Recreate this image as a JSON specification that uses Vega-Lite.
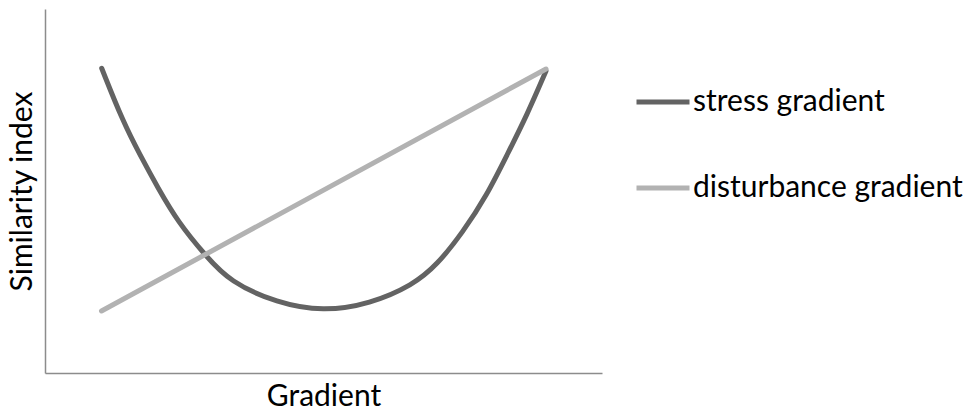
{
  "$schema": "https://vega.github.io/schema/vega-lite/v6.json",
  "width": 557,
  "height": 364,
  "autosize": {"type": "none"},
  "padding": {"left": 45, "top": 9, "right": 367, "bottom": 38},
  "background": "white",
  "config": {
    "view": {"stroke": null},
    "font": "Lato"
  },
  "datasets": {
    "curves": [
      {"series": "stress gradient", "g": 56.7, "s": 304.7},
      {"series": "stress gradient", "g": 78, "s": 251.3},
      {"series": "stress gradient", "g": 95, "s": 218},
      {"series": "stress gradient", "g": 113, "s": 185},
      {"series": "stress gradient", "g": 133, "s": 151},
      {"series": "stress gradient", "g": 160, "s": 118},
      {"series": "stress gradient", "g": 185, "s": 91},
      {"series": "stress gradient", "g": 232, "s": 70},
      {"series": "stress gradient", "g": 278, "s": 61.5},
      {"series": "stress gradient", "g": 325, "s": 69},
      {"series": "stress gradient", "g": 368, "s": 88},
      {"series": "stress gradient", "g": 392, "s": 108},
      {"series": "stress gradient", "g": 418, "s": 141},
      {"series": "stress gradient", "g": 442, "s": 178},
      {"series": "stress gradient", "g": 462, "s": 218},
      {"series": "stress gradient", "g": 482, "s": 258},
      {"series": "stress gradient", "g": 501, "s": 302},
      {"series": "disturbance gradient", "g": 56.5, "s": 62},
      {"series": "disturbance gradient", "g": 501, "s": 304}
    ]
  },
  "data": {"name": "curves"},
  "encoding": {
    "x": {
      "field": "g", "type": "quantitative",
      "scale": {"domain": [0, 557], "nice": false, "zero": false},
      "axis": {
        "title": "Gradient", "labels": false, "ticks": false, "grid": false,
        "domainColor": "#8c8c8c", "domainWidth": 1.5,
        "titleFont": "Lato", "titleFontSize": 30, "titleFontWeight": "normal",
        "titleColor": "#000000", "titlePadding": 8
      }
    },
    "y": {
      "field": "s", "type": "quantitative",
      "scale": {"domain": [0, 364], "nice": false, "zero": false},
      "axis": {
        "title": "Similarity index", "labels": false, "ticks": false, "grid": false,
        "domainColor": "#8c8c8c", "domainWidth": 1.5,
        "titleFont": "Lato", "titleFontSize": 30, "titleFontWeight": "normal",
        "titleColor": "#000000", "titlePadding": 8
      }
    },
    "color": {
      "field": "series", "type": "nominal",
      "scale": {"domain": ["stress gradient", "disturbance gradient"], "range": ["#636363", "#b2b2b2"]},
      "legend": {
        "title": null, "orient": "none", "legendX": 589, "legendY": 64,
        "symbolType": "stroke", "symbolSize": 2809, "symbolStrokeWidth": 5,
        "labelFont": "Lato", "labelFontSize": 30, "labelColor": "#000000",
        "labelOffset": 1, "rowPadding": 42, "labelLimit": 400
      }
    }
  },
  "layer": [
    {
      "transform": [{"filter": "datum.series === 'stress gradient'"}],
      "mark": {"type": "line", "interpolate": "basis", "strokeWidth": 5, "strokeCap": "round", "strokeJoin": "round"}
    },
    {
      "transform": [{"filter": "datum.series === 'disturbance gradient'"}],
      "mark": {"type": "line", "strokeWidth": 5, "strokeCap": "round"}
    }
  ]
}
